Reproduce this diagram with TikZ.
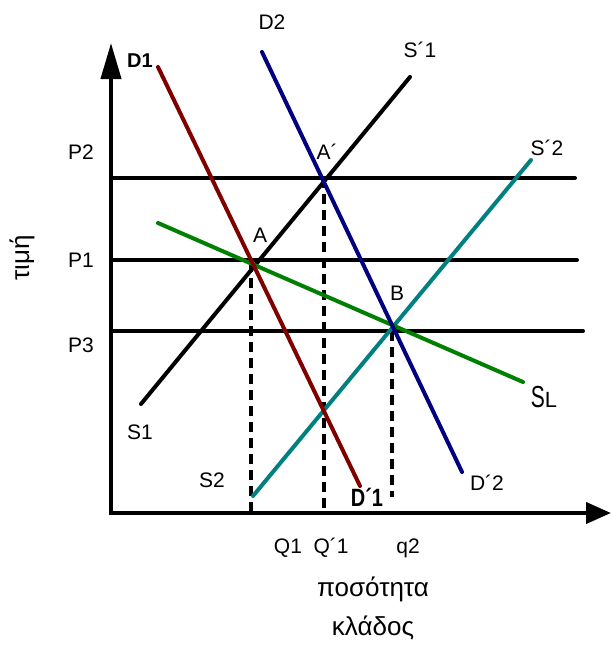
\documentclass[tikz,border=0pt]{standalone}
\usepackage{graphicx}
\usepackage{fontspec}
\setmainfont{Liberation Sans}
\usetikzlibrary{arrows.meta}
\definecolor{dred}{HTML}{800000}
\definecolor{dblue}{HTML}{000080}
\definecolor{dteal}{HTML}{008080}
\definecolor{dgreen}{HTML}{008000}
\begin{document}
\begin{tikzpicture}[x=1pt,y=-1pt,
  curve/.style={line width=4pt,line cap=round},
  axis/.style={line width=4pt},
  guide/.style={line width=4pt,dash pattern=on 10pt off 6pt},
  lbl/.style={inner sep=0pt,font=\fontsize{21}{24}\selectfont},
  boldlbl/.style={inner sep=0pt,font=\fontsize{20}{24}\selectfont\bfseries},
  big/.style={inner sep=0pt,font=\fontsize{26}{30}\selectfont}]
\useasboundingbox (0,0) rectangle (611,645);
% coordinates
\coordinate (O) at (111,513);
\coordinate (Ytop) at (111,43);
\coordinate (Xend) at (611,513);
\coordinate (p2l) at (111,178); \coordinate (p2r) at (575,178);
\coordinate (p1l) at (111,260); \coordinate (p1r) at (577,260);
\coordinate (p3l) at (111,331); \coordinate (p3r) at (583,331);
\coordinate (d1a) at (158,67);  \coordinate (d1b) at (360,486);
\coordinate (d2a) at (262,52);  \coordinate (d2b) at (462,472);
\coordinate (s1a) at (141,404); \coordinate (s1b) at (410,77);
\coordinate (s2a) at (253,496); \coordinate (s2b) at (531,160);
\coordinate (sla) at (158,223); \coordinate (slb) at (523,382);
\coordinate (qa) at (251,262);  \coordinate (qab) at (251,513);
\coordinate (qc) at (324,178);  \coordinate (qcb) at (324,513);
\coordinate (qb) at (392,331);  \coordinate (qbb) at (392,497);
% price lines
\draw[axis,line cap=round] (p2l) -- (p2r);
\draw[axis,line cap=round] (p1l) -- (p1r);
\draw[axis,line cap=round] (p3l) -- (p3r);
% dashed guides
\draw[guide] (qa) -- (qab);
\draw[guide] (qc) -- (qcb);
\draw[guide] (qb) -- (qbb);
% curves
\draw[curve,black] (s1a) -- (s1b);
\draw[curve,dteal] (s2a) -- (s2b);
\draw[curve,dgreen] (sla) -- (slb);
\draw[curve,dred] (d1a) -- (d1b);
\draw[curve,dblue] (d2a) -- (d2b);
% axes
\draw[axis,-{Triangle[length=36pt,width=20pt]}] (O) -- (Ytop);
\draw[axis,-{Triangle[length=25pt,width=21pt]}] ([xshift=-2pt]O) -- (Xend);
% labels
\node[boldlbl,anchor=base] (lD1) at (140,67) {D1};
\node[lbl] (lD2) at (272,22) {D2};
\node[lbl] (lS1p) at (420,50) {S´1};
\node[lbl] (lS2p) at (547,148) {S´2};
\node[lbl] (lAp) at (327,152) {A´};
\node[lbl] (lA) at (260,235) {A};
\node[lbl] (lB) at (397,293) {B};
\node[lbl,anchor=base] (lSL) at (544,407) {\scalebox{1}[1.45]{S}\fontsize{22}{24}\selectfont L};
\node[lbl] (lD2p) at (487,483) {D´2};
\node[boldlbl,anchor=base] (lD1p) at (367,506) {\scalebox{1}[1.25]{D´1}};
\node[lbl] (lS1) at (140,432) {S1};
\node[lbl] (lS2) at (212,480) {S2};
\node[lbl] (lP2) at (81,152) {P2};
\node[lbl] (lP1) at (81,260) {P1};
\node[lbl] (lP3) at (81,345) {P3};
\node[lbl] (lQ1) at (288,548) {Q1};
\node[lbl] (lQ1p) at (331,548) {Q´1};
\node[lbl] (lq2) at (408,548) {q2};
\node[big] (lqty) at (373,589) {ποσότητα};
\node[big] (lkl) at (373,628) {κλάδος};
\node[big,rotate=90] (lprice) at (22,258) {τιμή};
\end{tikzpicture}
\end{document}
